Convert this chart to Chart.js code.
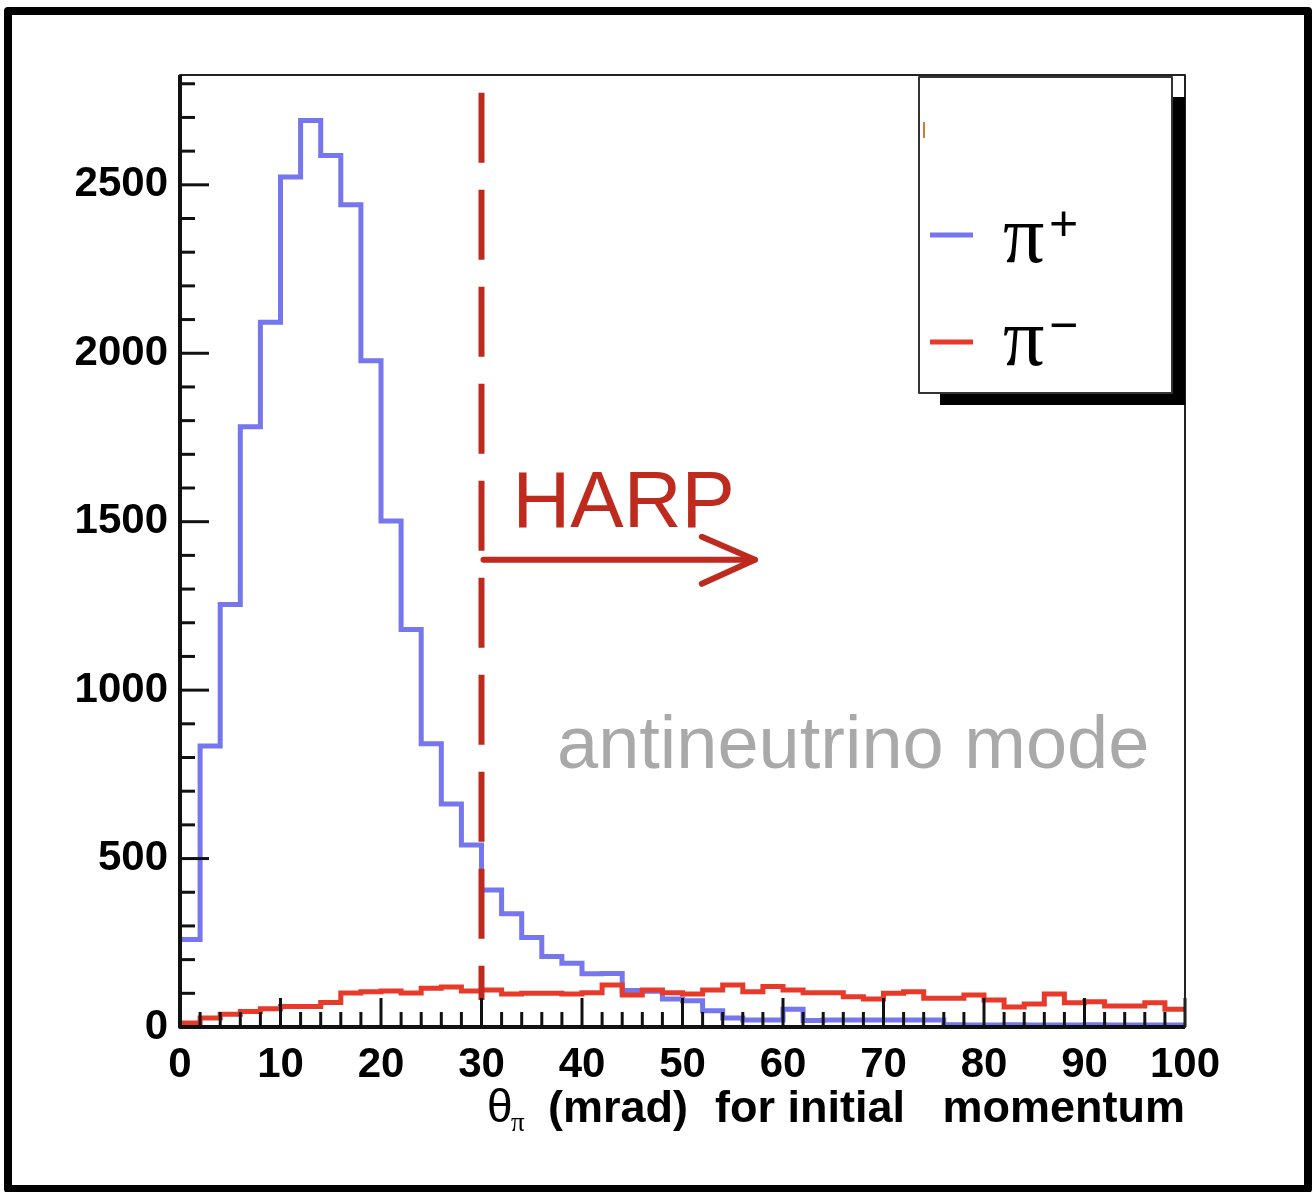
<!DOCTYPE html>
<html><head><meta charset="utf-8">
<script src="https://cdn.jsdelivr.net/npm/chart.js@4/dist/chart.umd.min.js"></script>
<style>html,body{margin:0;padding:0;background:#fff;}#wrap{width:1313px;height:1192px;}</style>
</head><body><div id="wrap"><canvas id="c" width="1313" height="1192"></canvas></div>
<script>
// ---- data ----
const binLowEdges = [0,2,4,6,8,10,12,14,16,18,20,22,24,26,28,30,32,34,36,38,40,42,44,46,48,50,52,54,56,58,60,62,64,66,68,70,72,74,76,78,80,82,84,86,88,90,92,94,96,98];
const binUpperEdge = 100;
const piPlus = [260,834,1254,1782,2092,2523,2691,2587,2441,1978,1502,1180,841,662,540,407,336,266,209,189,158,159,108,106,83,78,48,27,21,21,53,19,21,21,21,21,21,21,7,6,6,7,6,6,6,7,6,6,6,6];
const piMinus = [12,27,38,46,54,61,61,73,101,105,107,101,115,119,107,110,98,100,100,98,102,125,95,110,102,98,110,125,105,120,110,102,102,90,83,100,105,85,85,95,80,59,68,98,72,75,62,62,72,53];
const xTickLabels = [0,10,20,30,40,50,60,70,80,90,100];
const yTickLabels = [0,500,1000,1500,2000,2500];
const xMinorStep = 2, yMinorStep = 100;
const yMax = 2826;
const harpCut = 30;            // mrad, dashed vertical line
const harpCutRange = [80, 2773];
const harpArrowEnd = 57.2;     // mrad
const harpArrowLevel = 1387;   // counts
const seriesNames = ['\u03c0+', '\u03c0\u2212'];

function toSteps(vals){
  const pts = binLowEdges.map((e,i)=>({x:e, y:vals[i]}));
  pts.push({x:binUpperEdge, y:vals[vals.length-1]});
  return pts;
}

const BLUE = '#7676ee', RED = '#e83a2b', DARKRED = '#bf2a1e';
const SANS = '"Liberation Sans", Arial, Helvetica, sans-serif';
const SERIF = '"Liberation Serif", "Times New Roman", serif';
Chart.defaults.font.family = SANS;

const deco = {
  id: 'deco',
  afterDatasetsDraw(chart){
    const ctx = chart.ctx, xs = chart.scales.x, ys = chart.scales.y, ca = chart.chartArea;
    ctx.save();
    // dashed cut line
    const cx = xs.getPixelForValue(harpCut);
    ctx.strokeStyle = DARKRED; ctx.lineWidth = 6; ctx.lineCap = 'butt';
    ctx.setLineDash([70,27]);
    ctx.beginPath(); ctx.moveTo(cx, ys.getPixelForValue(harpCutRange[1])); ctx.lineTo(cx, ys.getPixelForValue(harpCutRange[0])); ctx.stroke();
    ctx.setLineDash([]);
    // arrow
    const ay = ys.getPixelForValue(harpArrowLevel), ax2 = xs.getPixelForValue(harpArrowEnd);
    ctx.lineWidth = 6; ctx.lineCap = 'round'; ctx.lineJoin = 'round';
    ctx.beginPath(); ctx.moveTo(cx+2, ay); ctx.lineTo(ax2, ay); ctx.stroke();
    ctx.beginPath(); ctx.moveTo(ax2-53, ay-23); ctx.lineTo(ax2, ay); ctx.lineTo(ax2-53, ay+24); ctx.stroke();
    // HARP
    ctx.fillStyle = DARKRED; ctx.font = '80px ' + SANS; ctx.textBaseline = 'alphabetic'; ctx.textAlign = 'left';
    ctx.fillText('HARP', cx + 31, ay - 33);
    // antineutrino mode
    ctx.fillStyle = '#a9a9a9'; ctx.font = '74px ' + SANS;
    ctx.fillText('antineutrino mode', 557, 768);

    // axis ticks (inside)
    ctx.strokeStyle = '#111'; ctx.lineWidth = 3; ctx.lineCap = 'butt';
    for (let v = 0; v <= binUpperEdge + 1e-9; v += xMinorStep){
      const px = xs.getPixelForValue(v);
      const major = xTickLabels.includes(v);
      ctx.beginPath(); ctx.moveTo(px, ca.bottom); ctx.lineTo(px, ca.bottom - (major ? 29 : 15)); ctx.stroke();
    }
    for (let v = 0; v <= yMax; v += yMinorStep){
      const py = ys.getPixelForValue(v);
      const major = yTickLabels.includes(v);
      ctx.beginPath(); ctx.moveTo(ca.left, py); ctx.lineTo(ca.left + (major ? 29 : 15), py); ctx.stroke();
    }
    // frame
    ctx.strokeStyle = '#222'; ctx.lineWidth = 2;
    ctx.strokeRect(ca.left, ca.top, ca.right - ca.left, ca.bottom - ca.top);
    ctx.strokeStyle = '#111'; ctx.lineWidth = 4;
    ctx.beginPath(); ctx.moveTo(ca.left, ca.top); ctx.lineTo(ca.left, ca.bottom); ctx.lineTo(ca.right, ca.bottom); ctx.stroke();

    // legend box with shadow
    const lx = 919, ly = 77, lw = 253, lh = 316;
    ctx.fillStyle = '#000';
    ctx.fillRect(lx + lw, ly + 20, 13, lh - 20 + 12);
    ctx.fillRect(lx + 21, ly + lh, lw - 21 + 13, 12);
    ctx.fillStyle = '#fff'; ctx.fillRect(lx, ly, lw, lh);
    ctx.strokeStyle = '#333'; ctx.lineWidth = 2; ctx.strokeRect(lx, ly, lw, lh);
    ctx.strokeStyle = '#c87d3c'; ctx.lineWidth = 2;
    ctx.beginPath(); ctx.moveTo(924, 122); ctx.lineTo(924, 138); ctx.stroke();
    const entries = [{c: BLUE, y: 235, base: 262, sup: '+', supY: 240}, {c: RED, y: 342, base: 365, sup: '\u2212', supY: 342}];
    entries.forEach(e => {
      ctx.strokeStyle = e.c; ctx.lineWidth = 5;
      ctx.beginPath(); ctx.moveTo(930, e.y); ctx.lineTo(973, e.y); ctx.stroke();
      ctx.fillStyle = '#000'; ctx.font = '82px ' + SERIF; ctx.textAlign = 'left';
      ctx.fillText('\u03c0', 1003, e.base);
      ctx.font = '50px ' + SANS;
      ctx.fillText(e.sup, 1049, e.supY);
    });

    // x title
    ctx.fillStyle = '#000'; ctx.textAlign = 'left'; ctx.textBaseline = 'alphabetic';
    ctx.font = '46px ' + SANS;
    ctx.fillText('\u03b8', 487, 1122);
    ctx.font = '27px ' + SERIF;
    ctx.fillText('\u03c0', 511, 1131);
    ctx.font = 'bold 45px ' + SANS;
    ctx.fillText('(mrad)', 548, 1122);
    ctx.fillText('for initial', 715, 1122);
    ctx.textAlign = 'right';
    ctx.fillText('momentum', 1185, 1122);

    // outer frame
    ctx.strokeStyle = '#000'; ctx.lineWidth = 8;
    ctx.strokeRect(8, 11, 1300, 1178);
    ctx.restore();
  }
};

new Chart(document.getElementById('c'), {
  type: 'scatter',
  data: { datasets: [
    { label: seriesNames[1], data: toSteps(piMinus), showLine: true, stepped: true, borderColor: RED, borderWidth: 5, pointRadius: 0, fill: false, order: 1 },
    { label: seriesNames[0], data: toSteps(piPlus), showLine: true, stepped: true, borderColor: BLUE, borderWidth: 5, pointRadius: 0, fill: false, order: 2 }
  ]},
  options: {
    responsive: false, animation: false, devicePixelRatio: 1,
    layout: { padding: { top: 75, right: 128, left: 0, bottom: 0 } },
    plugins: { legend: { display: false }, tooltip: { enabled: false } },
    scales: {
      x: { type: 'linear', min: 0, max: binUpperEdge,
        grid: { display: false, drawTicks: false }, border: { display: false },
        afterBuildTicks: s => { s.ticks = xTickLabels.map(v => ({ value: v })); },
        afterFit: s => { s.height = 165; },
        ticks: { color: '#000', font: { size: 42, weight: 'bold' }, padding: 13, maxRotation: 0, autoSkip: false,
          callback: v => String(v) } },
      y: { type: 'linear', min: 0, max: yMax,
        grid: { display: false, drawTicks: false }, border: { display: false },
        afterBuildTicks: s => { s.ticks = yTickLabels.map(v => ({ value: v })); },
        afterFit: s => { s.width = 180; },
        ticks: { color: '#000', font: { size: 42, weight: 'bold' }, padding: 12, autoSkip: false,
          callback: v => String(v) } }
    }
  },
  plugins: [deco]
});
</script></body></html>
